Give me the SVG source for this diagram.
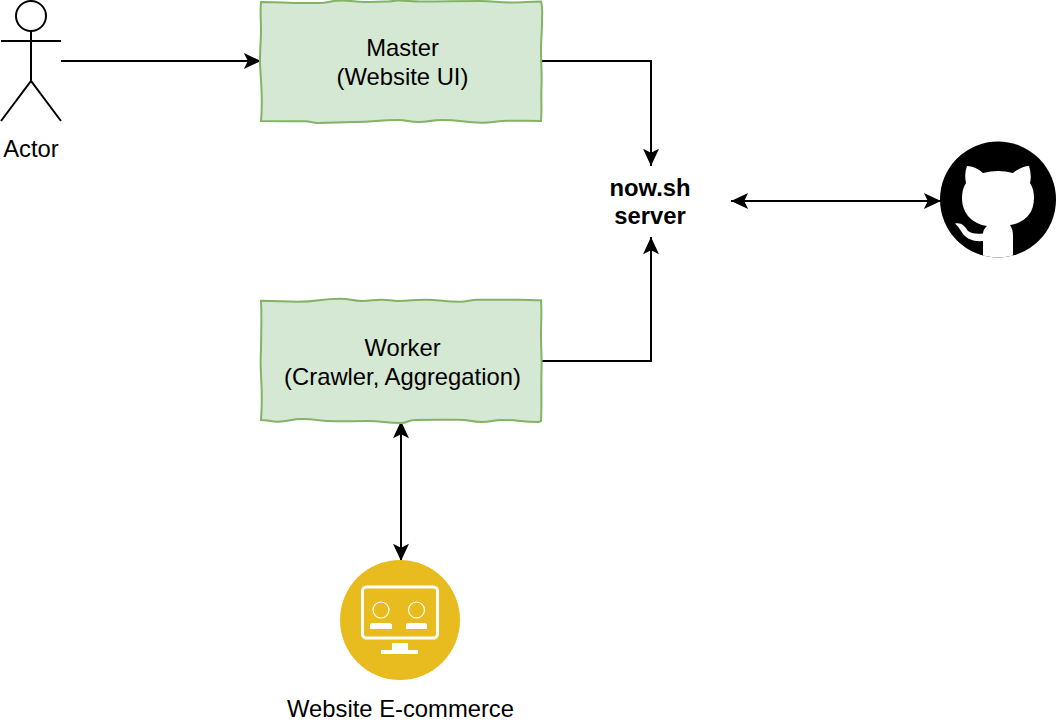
<svg xmlns="http://www.w3.org/2000/svg" width="1058" height="722" viewBox="0 0 1058 722">
<style>
text{font-family:"Liberation Sans",Arial,sans-serif;font-size:23.8px;fill:#000;text-anchor:middle}
.box{fill:#d5e8d4;stroke:#82b366;stroke-width:2}
.ln{fill:none;stroke:#000;stroke-width:2}
.b{font-weight:bold}
</style>
<defs>
<marker id="a" markerUnits="userSpaceOnUse" markerWidth="20" markerHeight="16" refX="15" refY="7" orient="auto-start-reverse" viewBox="0 0 16 14"><path d="M0 0L15 7L0 14L3.5 7Z" fill="#000"/></marker>
<clipPath id="gh"><circle cx="998" cy="199.5" r="58"/></clipPath>
</defs>
<rect width="1058" height="722" fill="#fff"/>
<g id="connectors">
<path class="ln" d="M61 61H261" marker-end="url(#a)"/>
<path class="ln" d="M541 61H651V166" marker-end="url(#a)"/>
<path class="ln" d="M541 361H651V237" marker-end="url(#a)"/>
<path class="ln" d="M731 201H941" marker-start="url(#a)" marker-end="url(#a)"/>
<path class="ln" d="M401 421V561" marker-start="url(#a)" marker-end="url(#a)"/>
</g>
<g id="actor">
<circle class="ln" cx="31" cy="16" r="15"/>
<path class="ln" d="M31 31V81M1 41H61M1 121L31 81L61 121"/>
<text x="31" y="157">Actor</text>
</g>
<g id="master">
<path class="box" d="M261 2C283 2 283 3 305 3C312 3 311 3 318 3C330 3 330 .5 342 .5C353 .5 354 2 365 2C376 2 377 1.5 388 1.5C393 1.5 393 .5 398 .5C409 .5 409 1.5 420 1.5C450 1.5 450 1 480 1C495 1 495 2.5 510 2.5C525 2.5 526 1.5 541 1.5C543 8 542 14 542 22C542 32 541 38 541 50C541 62 542 72 541.500 86C541 100 542 110 541 121C525 121 524 120.700 508 120.700C495 120.700 495 122.700 482 122.700C462 122.700 462 120 442 120C430 120 430 122 418 122C408 122 408 120 398 120C376 120 376 122 355 122C336 122 336 123 318 123C311 123 312 121.300 305 121.300C283 121.300 283 121 261 121C262 110 262 100 261.500 90C261 76 260 70 260 60C260 48 261 40 261 30C261 20 260 12 261 2Z"/>
<text x="402.500" y="56">Master</text>
<text x="402.500" y="85">(Website UI)</text>
</g>
<g id="worker">
<path class="box" d="M261 300.700C280 300.700 280 301.700 298 301.700C319 301.700 319 298.700 340 298.700C351 298.700 351 301 362 301C372 301 372 299.700 382 299.700C390 299.700 390 301 398 301C411 301 411 299.700 425 299.700C442 299.700 442 301.700 460 301.700C469 301.700 469 299.700 478 299.700C498 299.700 498 299.700 518 299.700C530 299.700 530 300.300 541 300.300C542 312 541 322 541 335C541 348 542 358 541.500 372C541 388 542 404 541 421C540 421.500 539 422 538 422C520 422 520 420 502 420C492 420 492 422 482 422C470 422 470 419.700 458 419.700C436 419.700 436 420 415 420C408 420 408 423 401 423C384 423 384 421 368 421C352 421 352 421.300 335 421.300C318 421.300 318 419 302 419C290 419 290 421.700 278 421.700C270 421.700 268 420 261 420C262 408 262 398 261.500 385C261 372 260 364 261 350C261 336 262 320 261 300.700Z"/>
<text x="402.500" y="356">Worker</text>
<text x="402.500" y="385">(Crawler, Aggregation)</text>
</g>
<g id="server">
<text class="b" x="650" y="196">now.sh</text>
<text class="b" x="650" y="224">server</text>
</g>
<g id="github">
<circle cx="998" cy="199.500" r="58" fill="#000"/>
<path clip-path="url(#gh)" fill="#fff" d="M967 166Q975 166 983 173Q998 169 1013 173Q1022 166 1029 166Q1032 175 1030 183Q1034 189 1034 198C1034 214 1024 223 1010 225Q1013 229 1013 236V260H983V241C972 242 965 238 961 231Q958 226 955 223.500C961 222 965 226 968 231C972 234 978 234 983 233.500C983 230 985 228 987 226C973 224 962 214 962 198Q962 189 966 183Q964 174 967 166Z"/>
</g>
<g id="ecommerce">
<circle cx="400" cy="620" r="60" fill="#e8bc1e"/>
<rect x="362.500" y="587" width="75" height="51" rx="4" fill="none" stroke="#fff" stroke-width="3"/>
<circle cx="381" cy="610" r="8" fill="none" stroke="#fff" stroke-width="1.2"/>
<circle cx="416.500" cy="610" r="8" fill="none" stroke="#fff" stroke-width="1.2"/>
<path fill="#fff" d="M370 629V625Q370 623 373 623H389Q392 623 392 625V629ZM406 629V625Q406 623 409 623H424Q427 623 427 625V629Z"/>
<path fill="#fff" d="M392 643H408V650H418V654H381V650H392Z"/>
<text x="400.500" y="717">Website E-commerce</text>
</g>
</svg>
